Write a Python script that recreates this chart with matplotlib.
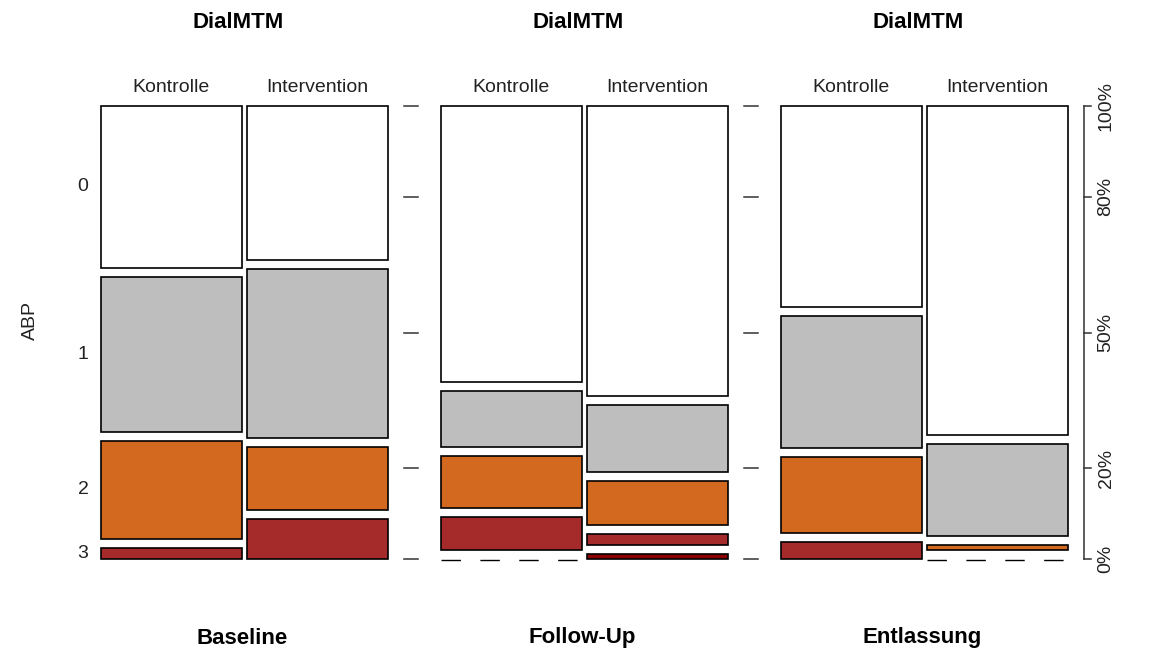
import matplotlib
matplotlib.use("Agg")
from matplotlib import pyplot as plt
from matplotlib.patches import Rectangle

plt.rcParams['font.family'] = ['Liberation Sans', 'DejaVu Sans']

# percent shares of ABP categories 0..4 per group
panels = ["Baseline", "Follow-Up", "Entlassung"]
groups = ["Kontrolle", "Intervention"]
baseline_k = [38.0, 36.4, 23.0, 2.6]
baseline_i = [36.1, 39.8, 14.8, 9.4]
followup_k = [66.2, 13.4, 12.5, 7.9, 0.0]
followup_i = [69.5, 16.1, 10.6, 2.6, 1.2]
entlassung_k = [47.1, 31.1, 17.8, 4.0]
entlassung_i = [77.2, 21.6, 1.2, 0.0]
cat_labels = ["0", "1", "2", "3"]
pct_ticks = [0, 20, 50, 80, 100]
pct_labels = ["0%", "20%", "50%", "80%", "100%"]

data = [[baseline_k, baseline_i], [followup_k, followup_i],
        [entlassung_k, entlassung_i]]
colors = ["white", "#BEBEBE", "#D2691E", "#A52A2A", "#8B0000"]

TOP, BOT, GAP = 106, 559, 9
panel_x = [101, 441, 781]
col_w, col_gap = 141, 5


def pct_y(p):
    return BOT - p / 100 * (BOT - TOP)


fig = plt.figure(figsize=(11.5, 6.56), dpi=100)
ax = fig.add_axes([0, 0, 1, 1])
ax.set_xlim(0, 1150)
ax.set_ylim(656, 0)
ax.axis("off")

label_centres = []
for pi, (name, cols) in enumerate(zip(panels, data)):
    x0 = panel_x[pi]
    for gi, vals in enumerate(cols):
        x = x0 + gi * (col_w + col_gap)
        avail = (BOT - TOP) - GAP * (len(vals) - 1)
        y = TOP
        for ci, v in enumerate(vals):
            h = v / 100 * avail
            if v == 0:
                ax.plot([x, x + col_w], [y + 1, y + 1], color="black",
                        lw=1, dashes=(14, 14))
            else:
                ax.add_patch(Rectangle((x, y), col_w, h, fc=colors[ci],
                                       ec="black", lw=1.2))
            if pi == 0 and gi == 0:
                label_centres.append(y + h / 2)
            y += h + GAP
        ax.text(x + col_w / 2, 87, groups[gi], ha="center", va="center",
                fontsize=14, color="#222222")
    mid = x0 + col_w + col_gap / 2 - 6
    ax.text(mid, 22, "DialMTM", ha="center", va="center", fontsize=16,
            fontweight="bold")
    ax.text(mid + 4, 638, name, ha="center", va="center", fontsize=16,
            fontweight="bold")
    # right-hand ticks
    xr = x0 + 2 * col_w + col_gap
    if pi < 2:
        for p in pct_ticks:
            ax.plot([xr + 16, xr + 30], [pct_y(p)] * 2, color="#333333",
                    lw=1.1)
    else:
        ax.plot([xr + 16, xr + 16], [pct_y(0), pct_y(100)], color="#333333",
                lw=1.1)
        for p, lab in zip(pct_ticks, pct_labels):
            ax.plot([xr + 16, xr + 23], [pct_y(p)] * 2, color="#333333",
                    lw=1.1)
            ax.text(xr + 38, pct_y(p), lab, rotation=90, ha="center",
                    va="center", fontsize=14, color="#222222")

for lab, yc in zip(cat_labels, label_centres):
    ax.text(83, yc, lab, ha="center", va="center", fontsize=14,
            color="#222222")
ax.text(30, 320, "ABP", rotation=90, ha="center", va="center", fontsize=14,
        color="#222222")

fig.savefig("out.png", dpi=100)
